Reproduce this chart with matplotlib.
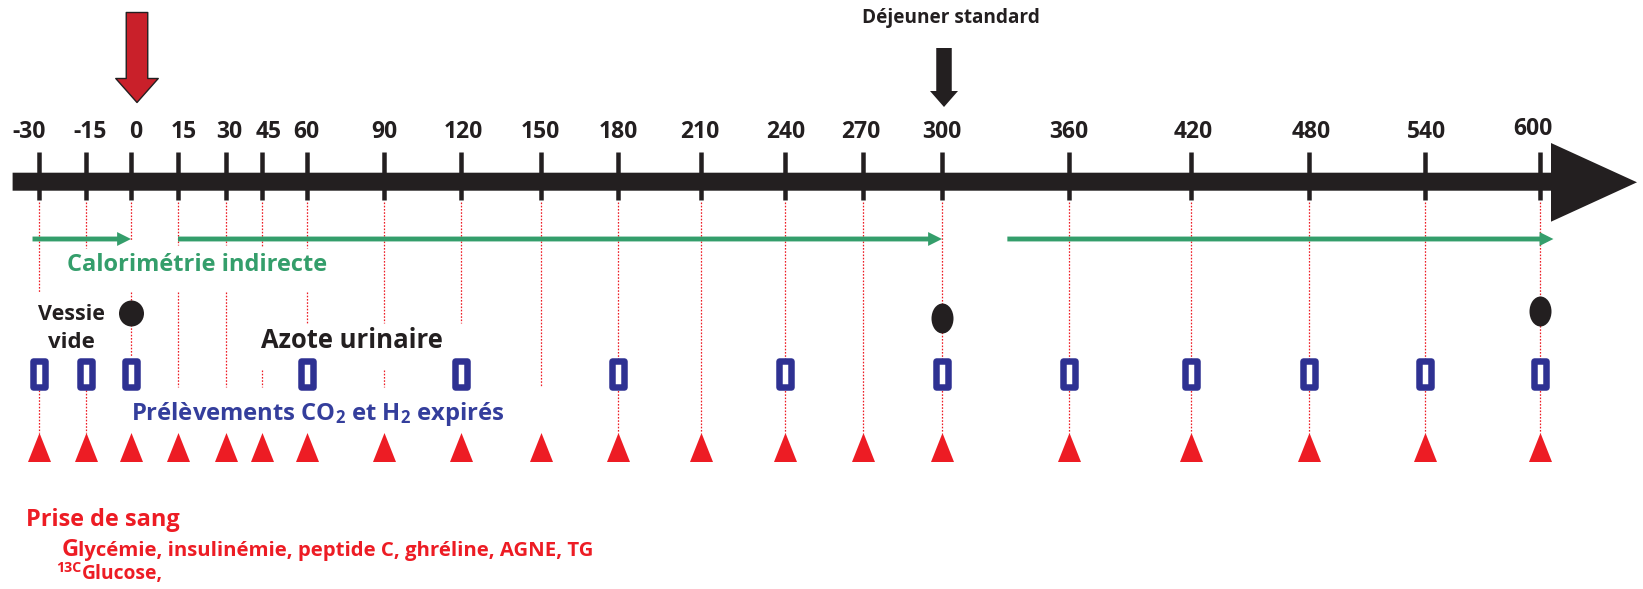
import numpy as np
import matplotlib
matplotlib.use("Agg")
import matplotlib.pyplot as plt
from matplotlib.markers import MarkerStyle
from matplotlib.path import Path
from matplotlib.transforms import Affine2D
from matplotlib.patches import Polygon

# ---------------- data ----------------
tick_times = [-30, -15, 0, 15, 30, 45, 60, 90, 120, 150, 180, 210, 240, 270,
              300, 360, 420, 480, 540, 600]
tick_labels = [str(t) for t in tick_times]
blood_times = [-30, -15, 0, 15, 30, 45, 60, 90, 120, 150, 180, 210, 240, 270,
               300, 360, 420, 480, 540, 600]
breath_times = [-30, -15, 0, 60, 120, 180, 240, 300, 360, 420, 480, 540, 600]
urine_times = [0, 300, 600]
calorimetry_starts = [-32, 15, 331]
calorimetry_ends = [0, 300, 607]
intervention_time = 0
meal_time = 300
meal_label = "Déjeuner standard"

# ---------------- layout (pixels of a 1643x589 canvas) ----------------
W, H = 1643, 589
TICK_PX = [38.8, 85.9, 131, 178, 226, 262, 307, 383.5, 461, 540.6, 618, 701,
           785, 863, 942, 1068.5, 1191, 1309, 1425, 1540]
LABEL_DX = [-10, 4, 5, 6, 3, 7, -1, 1, 2, 0, 0, -1, 1, -2, 0, 0, 2, 2, 1, -7]
LABEL_Y = 132
DOT_SEGS = {
    -30: [(202, 292), (390, 433)], -15: [(202, 248), (390, 433)],
    0: [(202, 240), (292, 357)], 15: [(202, 245), (292, 387)],
    30: [(202, 245), (292, 387)], 45: [(202, 247), (370, 387)],
    60: [(202, 248), (292, 323)], 90: [(202, 323), (370, 387)],
    120: [(202, 323)], 150: [(202, 387)],
}
DOT_DEFAULT = [(202, 433)]
URINE_Y = [313, 318, 311]
URINE_WH = [(25, 26), (22, 30), (22, 30)]

BLACK = "#231F20"
RED = "#ED1C24"
DARKRED = "#C9202A"
BLUE = "#2E3192"
BLUE_TXT = "#343E9C"
GREEN = "#349E6B"
FONT = "Open Sans"

plt.rcParams["mathtext.fontset"] = "custom"
plt.rcParams["mathtext.rm"] = "Open Sans:bold"
plt.rcParams["mathtext.it"] = "Open Sans:bold"
plt.rcParams["mathtext.bf"] = "Open Sans:bold"


def pt(px):
    return px * 0.72


def make_scale(T, P):
    T = np.asarray(T, float)
    P = np.asarray(P, float)

    def build(a, b):
        s0 = (b[1] - b[0]) / (a[1] - a[0])
        s1 = (b[-1] - b[-2]) / (a[-1] - a[-2])

        def f(x):
            x = np.asarray(x, float)
            y = np.interp(x, a, b)
            y = np.where(x < a[0], b[0] + (x - a[0]) * s0, y)
            y = np.where(x > a[-1], b[-1] + (x - a[-1]) * s1, y)
            return y
        return f
    return build(T, P), build(P, T)


def px_marker(verts):
    v = np.asarray(verts, float)
    m = np.abs(v).max()
    codes = [Path.MOVETO] + [Path.LINETO] * (len(v) - 1) + [Path.CLOSEPOLY]
    path = Path(np.vstack([v, v[:1]]), codes)
    return MarkerStyle(path, joinstyle="miter"), pt(2 * m)


def ellipse_marker(w, h):
    path = Path.unit_circle().transformed(Affine2D().scale(w / 2, h / 2))
    return MarkerStyle(path), pt(max(w, h))


fwd, inv = make_scale(tick_times, TICK_PX)

fig = plt.figure(figsize=(W / 100, H / 100), dpi=100)
axp = fig.add_axes([0, 0, 1, 1])
axp.set_xlim(0, W)
axp.set_ylim(H, 0)
axp.axis("off")
ax = fig.add_axes([0, 0, 1, 1], zorder=2)
ax.set_xscale("function", functions=(fwd, inv))
ax.set_xlim(float(inv(0)), float(inv(W)))
ax.set_ylim(H, 0)
ax.axis("off")

fitted = []  # (text artist, target width px)

# main time axis arrow
axp.add_patch(Polygon([(12.6, 172.7), (1551, 172.7), (1551, 143), (1637, 182.3),
                       (1551, 221.7), (1551, 190.7), (12.6, 190.7)],
                      closed=True, fc=BLACK, ec="none"))

# ticks and labels
ax.vlines(tick_times, 152, 200, color=BLACK, lw=pt(4.5), zorder=3)
for t, lab, dx in zip(tick_times, tick_labels, LABEL_DX):
    y = LABEL_Y - (3 if t == tick_times[-1] else 0)
    ax.annotate(lab, (t, y), xytext=(pt(dx), 0), textcoords="offset points",
                ha="center", va="center", fontsize=16.5, fontweight="bold",
                family=FONT, color=BLACK)

# dotted guide lines
for t in tick_times:
    for y0, y1 in DOT_SEGS.get(t, DOT_DEFAULT):
        ax.vlines(t, y0, y1, color=RED, lw=0.9, linestyles=(0, (1.3, 1.3)),
                  zorder=1)

# intervention arrow (red) and meal arrow (black)
red_arrow, red_ms = px_marker([(5.5 - 10.75, 45), (5.5 + 10.75, 45),
                               (5.5 + 10.75, -21), (5.5 + 21.25, -21),
                               (5.5, -45), (5.5 - 21.25, -21),
                               (5.5 - 10.75, -21)])
ax.plot([intervention_time], [57], ls="none", marker=red_arrow, ms=red_ms,
        mfc=DARKRED, mec=BLACK, mew=1.0, zorder=4)
blk_arrow, blk_ms = px_marker([(1.5 - 7.75, 29.5), (1.5 + 7.75, 29.5),
                               (1.5 + 7.75, -13.5), (1.5 + 14, -13.5),
                               (1.5, -29.5), (1.5 - 14, -13.5),
                               (1.5 - 7.75, -13.5)])
ax.plot([meal_time], [76.5], ls="none", marker=blk_arrow, ms=blk_ms,
        mfc=BLACK, mec="none", zorder=4)
t_meal = ax.annotate(meal_label, (meal_time, 18), xytext=(pt(9), 0),
                     textcoords="offset points", ha="center", va="center",
                     fontsize=15, fontweight="bold", family=FONT, color=BLACK)
fitted.append((t_meal, 178))

# indirect calorimetry periods
for s, e in zip(calorimetry_starts, calorimetry_ends):
    ax.annotate("", xy=(e, 239), xytext=(s, 239),
                arrowprops=dict(arrowstyle="simple,head_length=10,head_width=10,tail_width=3.5",
                                mutation_scale=1, fc=GREEN, ec="none",
                                shrinkA=0, shrinkB=0), zorder=3)
fitted.append((axp.text(67, 265, "Calorimétrie indirecte", ha="left",
                        va="center", fontsize=18, fontweight="bold",
                        family=FONT, color=GREEN), 261))

# urine collections
for t, y, (w, h) in zip(urine_times, URINE_Y, URINE_WH):
    m, ms = ellipse_marker(w, h)
    ax.plot([t], [y], ls="none", marker=m, ms=ms, mfc=BLACK, mec="none",
            zorder=4)
fitted.append((axp.text(71.5, 315, "Vessie", ha="center", va="center",
                        fontsize=16, fontweight="bold", family=FONT,
                        color=BLACK), 67))
axp.text(71.5, 342, "vide", ha="center", va="center", fontsize=16,
         fontweight="bold", family=FONT, color=BLACK)
fitted.append((axp.text(261, 341, "Azote urinaire", ha="left", va="center",
                        fontsize=18, fontweight="bold", family=FONT,
                        color=BLACK), 182))

# breath samples
rect_m, rect_ms = px_marker([(-6.25, -13.25), (6.25, -13.25), (6.25, 13.25),
                             (-6.25, 13.25)])
ax.plot(breath_times, [373.5] * len(breath_times), ls="none", marker=rect_m,
        ms=rect_ms, mfc="white", mec=BLUE, mew=pt(6.5), zorder=4)
fitted.append((axp.text(131, 420,
                        r"Prélèvements CO$_\mathrm{2}$ et H$_\mathrm{2}$ expirés",
                        ha="left", va="baseline", fontsize=17,
                        fontweight="bold", family=FONT, color=BLUE_TXT), 373))

# blood samples
tri_m, tri_ms = px_marker([(0, 14.5), (-11.5, -14.5), (11.5, -14.5)])
ax.plot(blood_times, [447] * len(blood_times), ls="none", marker=tri_m,
        ms=tri_ms, mfc=RED, mec="none", zorder=4)
fitted.append((axp.text(26, 526, "Prise de sang", ha="left", va="baseline",
                        fontsize=17, fontweight="bold", family=FONT,
                        color=RED), 154))
axp.text(62, 556, "G", ha="left", va="baseline", fontsize=17,
         fontweight="bold", family=FONT, color=RED)
fitted.append((axp.text(77.5, 556,
                        "lycémie, insulinémie, peptide C, ghréline, AGNE, TG",
                        ha="left", va="baseline", fontsize=13,
                        fontweight="bold", family=FONT, color=RED), 512))
fitted.append((axp.text(56, 572, "13C", ha="left", va="baseline",
                        fontsize=8.5, fontweight="bold", family=FONT,
                        color=RED), 25))
fitted.append((axp.text(82, 579, "Glucose,", ha="left", va="baseline",
                        fontsize=13, fontweight="bold", family=FONT,
                        color=RED), 80))

# scale the free texts to the widths they take in the reference
fig.canvas.draw()
renderer = fig.canvas.get_renderer()
for txt, target in fitted:
    w = txt.get_window_extent(renderer).width
    txt.set_fontsize(txt.get_fontsize() * target / w)

fig.savefig("out.png", dpi=100)
